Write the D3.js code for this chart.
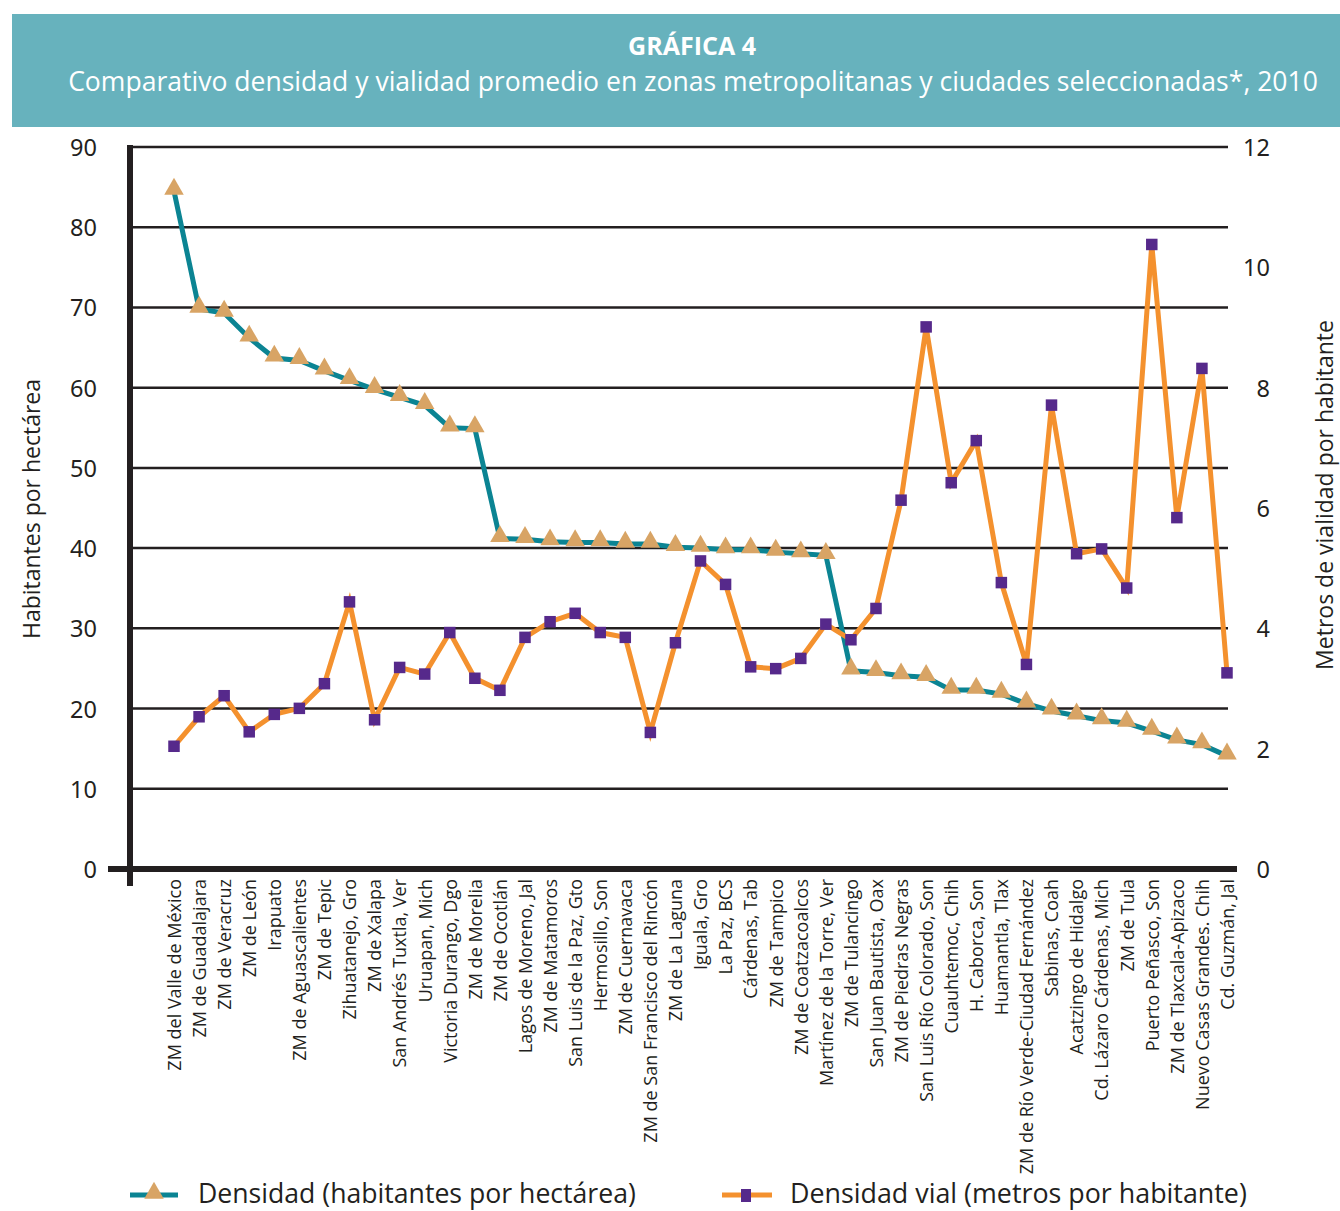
<!DOCTYPE html>
<html lang="es">
<head>
<meta charset="utf-8">
<title>Gráfica 4</title>
<script src="https://cdn.jsdelivr.net/npm/d3@7"></script>
<style>
  html, body { margin: 0; padding: 0; background: #ffffff; }
  svg { display: block; }
</style>
</head>
<body>
<svg id="chart" width="1340" height="1211"></svg>
<script>
// Zonas metropolitanas y ciudades, ordenadas por densidad
const ciudades = [
  "ZM del Valle de México", "ZM de Guadalajara", "ZM de Veracruz", "ZM de León",
  "Irapuato", "ZM de Aguascalientes", "ZM de Tepic", "Zihuatanejo, Gro",
  "ZM de Xalapa", "San Andrés Tuxtla, Ver", "Uruapan, Mich", "Victoria Durango, Dgo",
  "ZM de Morelia", "ZM de Ocotlán", "Lagos de Moreno, Jal", "ZM de Matamoros",
  "San Luis de la Paz, Gto", "Hermosillo, Son", "ZM de Cuernavaca",
  "ZM de San Francisco del Rincón", "ZM de La Laguna", "Iguala, Gro", "La Paz, BCS",
  "Cárdenas, Tab", "ZM de Tampico", "ZM de Coatzacoalcos", "Martínez de la Torre, Ver",
  "ZM de Tulancingo", "San Juan Bautista, Oax", "ZM de Piedras Negras",
  "San Luis Río Colorado, Son", "Cuauhtemoc, Chih", "H. Caborca, Son", "Huamantla, Tlax",
  "ZM de Río Verde-Ciudad Fernández", "Sabinas, Coah", "Acatzingo de Hidalgo",
  "Cd. Lázaro Cárdenas, Mich", "ZM de Tula", "Puerto Peñasco, Son",
  "ZM de Tlaxcala-Apizaco", "Nuevo Casas Grandes. Chih", "Cd. Guzmán, Jal"
];

// Densidad (habitantes por hectárea) — eje izquierdo
const densidad = [
  84.5, 69.8, 69.3, 66.2, 63.7, 63.4, 62.1, 60.9, 59.8, 58.8, 57.8, 55.0, 54.9,
  41.2, 41.1, 40.8, 40.7, 40.7, 40.5, 40.5, 40.1, 40.0, 39.8, 39.8, 39.5, 39.3, 39.1,
  24.7, 24.5, 24.1, 23.9, 22.3, 22.3, 21.8, 20.6, 19.7, 19.1, 18.5, 18.2, 17.2,
  16.1, 15.5, 14.1
];

// Densidad vial (metros por habitante) — eje derecho
const densidadVial = [
  2.04, 2.53, 2.88, 2.28, 2.57, 2.67, 3.08, 4.44, 2.48, 3.35, 3.24, 3.93, 3.17,
  2.97, 3.85, 4.11, 4.25, 3.93, 3.85, 2.27, 3.76, 5.12, 4.73, 3.36, 3.33, 3.50, 4.07,
  3.81, 4.33, 6.13, 9.01, 6.42, 7.12, 4.76, 3.40, 7.71, 5.24, 5.32, 4.67, 10.38,
  5.84, 8.32, 3.26
];

const ticksIzq = [0, 10, 20, 30, 40, 50, 60, 70, 80, 90];
const ticksDer = [0, 2, 4, 6, 8, 10, 12];

const titulo = "GRÁFICA 4";
const subtitulo = "Comparativo densidad y vialidad promedio en zonas metropolitanas y ciudades seleccionadas*, 2010";
const tituloIzq = "Habitantes por hectárea";
const tituloDer = "Metros de vialidad por habitante";
const leyenda = ["Densidad (habitantes por hectárea)", "Densidad vial (metros por habitante)"];

const C = {
  banda: "#67b2bd",
  teal: "#0b8493",
  tri: "#d8a465",
  naranja: "#f4912e",
  morado: "#56298b",
  eje: "#231f20"
};

const TXT = "'Open Sans', 'Noto Sans', sans-serif";
const NUM = "'Noto Sans', 'DejaVu Sans', sans-serif";

const svg = d3.select("#chart");

// Ajusta el tamaño de letra para que el texto ocupe el ancho indicado
function ajustar(sel, ancho) {
  const n = sel.node();
  const w = n.getComputedTextLength();
  const fs = parseFloat(sel.attr("font-size"));
  if (w > 0) sel.attr("font-size", (fs * ancho / w).toFixed(2));
  return sel;
}

// Banda de encabezado
svg.append("rect")
  .attr("x", 12).attr("y", 14).attr("width", 1328).attr("height", 113)
  .attr("fill", C.banda);

ajustar(svg.append("text")
  .attr("x", 692).attr("y", 55)
  .attr("text-anchor", "middle")
  .attr("font-family", TXT).attr("font-weight", 700).attr("font-size", 21)
  .attr("fill", "#ffffff")
  .text(titulo), 128);

ajustar(svg.append("text")
  .attr("x", 693).attr("y", 91)
  .attr("text-anchor", "middle")
  .attr("font-family", TXT).attr("font-size", 22)
  .attr("fill", "#ffffff")
  .text(subtitulo), 1250);

// Escalas
const x = d3.scalePoint().domain(ciudades).range([174, 1227]);
const yIzq = d3.scaleLinear().domain([0, 90]).range([869, 147]);
const yDer = d3.scaleLinear().domain([0, 12]).range([869, 147]);

const x0 = 130, x1 = 1228;

// Líneas de cuadrícula
svg.append("g")
  .selectAll("line")
  .data(ticksIzq.filter(d => d > 0))
  .join("line")
  .attr("x1", x0).attr("x2", x1)
  .attr("y1", d => yIzq(d)).attr("y2", d => yIzq(d))
  .attr("stroke", C.eje).attr("stroke-width", 2.5);

// Eje izquierdo
const ejeIzq = svg.append("g")
  .attr("transform", `translate(${x0},0)`)
  .call(d3.axisLeft(yIzq).tickValues(ticksIzq).tickSize(0).tickPadding(33));
ejeIzq.select(".domain").remove();
ejeIzq.selectAll("text")
  .attr("font-family", NUM).attr("font-size", 23.5).attr("fill", C.eje)
  .attr("dy", "0.36em");

// Eje derecho
const ejeDer = svg.append("g")
  .attr("transform", `translate(1270,0)`)
  .call(d3.axisLeft(yDer).tickValues(ticksDer).tickSize(0).tickPadding(0));
ejeDer.select(".domain").remove();
ejeDer.selectAll("text")
  .attr("font-family", NUM).attr("font-size", 23.5).attr("fill", C.eje)
  .attr("dy", "0.36em");

// Ejes gruesos
svg.append("line")
  .attr("x1", x0).attr("x2", x0).attr("y1", 145).attr("y2", 886)
  .attr("stroke", C.eje).attr("stroke-width", 6);
svg.append("line")
  .attr("x1", 108).attr("x2", 1237).attr("y1", yIzq(0)).attr("y2", yIzq(0))
  .attr("stroke", C.eje).attr("stroke-width", 6);

// Títulos de ejes
svg.append("text")
  .attr("transform", "translate(40,509) rotate(-90)")
  .attr("text-anchor", "middle")
  .attr("font-family", TXT).attr("font-size", 23).attr("fill", C.eje)
  .text(tituloIzq);
svg.append("text")
  .attr("transform", "translate(1333,495) rotate(-90)")
  .attr("text-anchor", "middle")
  .attr("font-family", TXT).attr("font-size", 23).attr("fill", C.eje)
  .text(tituloDer);

// Etiquetas de categorías
const ejeX = svg.append("g")
  .attr("transform", `translate(0,${yIzq(0)})`)
  .call(d3.axisBottom(x).tickSize(0).tickPadding(0));
ejeX.select(".domain").remove();
ejeX.selectAll("text")
  .attr("font-family", TXT).attr("font-size", 18).attr("fill", C.eje)
  .attr("text-anchor", "end")
  .attr("transform", "translate(0,10) rotate(-90)")
  .attr("dx", 0).attr("dy", "0.35em").attr("y", 0).attr("x", 0);

// Serie: densidad
const lineaIzq = d3.line().x((d, i) => x(ciudades[i])).y(d => yIzq(d));
svg.append("path")
  .datum(densidad)
  .attr("d", lineaIzq)
  .attr("fill", "none").attr("stroke", C.teal).attr("stroke-width", 5)
  .attr("stroke-linejoin", "miter");

const tri = d3.symbol().type(d3.symbolTriangle).size(165);
svg.append("g")
  .selectAll("path")
  .data(densidad)
  .join("path")
  .attr("d", tri)
  .attr("transform", (d, i) => `translate(${x(ciudades[i])},${yIzq(d) - 2})`)
  .attr("fill", C.tri);

// Serie: densidad vial
const lineaDer = d3.line().x((d, i) => x(ciudades[i])).y(d => yDer(d));
svg.append("path")
  .datum(densidadVial)
  .attr("d", lineaDer)
  .attr("fill", "none").attr("stroke", C.naranja).attr("stroke-width", 5)
  .attr("stroke-linejoin", "miter");

const lado = 11.5;
svg.append("g")
  .selectAll("rect")
  .data(densidadVial)
  .join("rect")
  .attr("x", (d, i) => x(ciudades[i]) - lado / 2)
  .attr("y", d => yDer(d) - lado / 2)
  .attr("width", lado).attr("height", lado)
  .attr("fill", C.morado);

// Leyenda
const ley = svg.append("g");
ley.append("line").attr("x1", 130).attr("x2", 178).attr("y1", 1195).attr("y2", 1195)
  .attr("stroke", C.teal).attr("stroke-width", 5);
ley.append("path").attr("d", tri).attr("transform", "translate(154,1193)").attr("fill", C.tri);
ajustar(ley.append("text").attr("x", 198).attr("y", 1203)
  .attr("font-family", TXT).attr("font-size", 23).attr("fill", C.eje)
  .text(leyenda[0]), 438);

ley.append("line").attr("x1", 722).attr("x2", 772).attr("y1", 1195).attr("y2", 1195)
  .attr("stroke", C.naranja).attr("stroke-width", 5);
ley.append("rect").attr("x", 741).attr("y", 1189).attr("width", 10).attr("height", 13)
  .attr("fill", C.morado);
ajustar(ley.append("text").attr("x", 790).attr("y", 1203)
  .attr("font-family", TXT).attr("font-size", 23).attr("fill", C.eje)
  .text(leyenda[1]), 457);
</script>
</body>
</html>
